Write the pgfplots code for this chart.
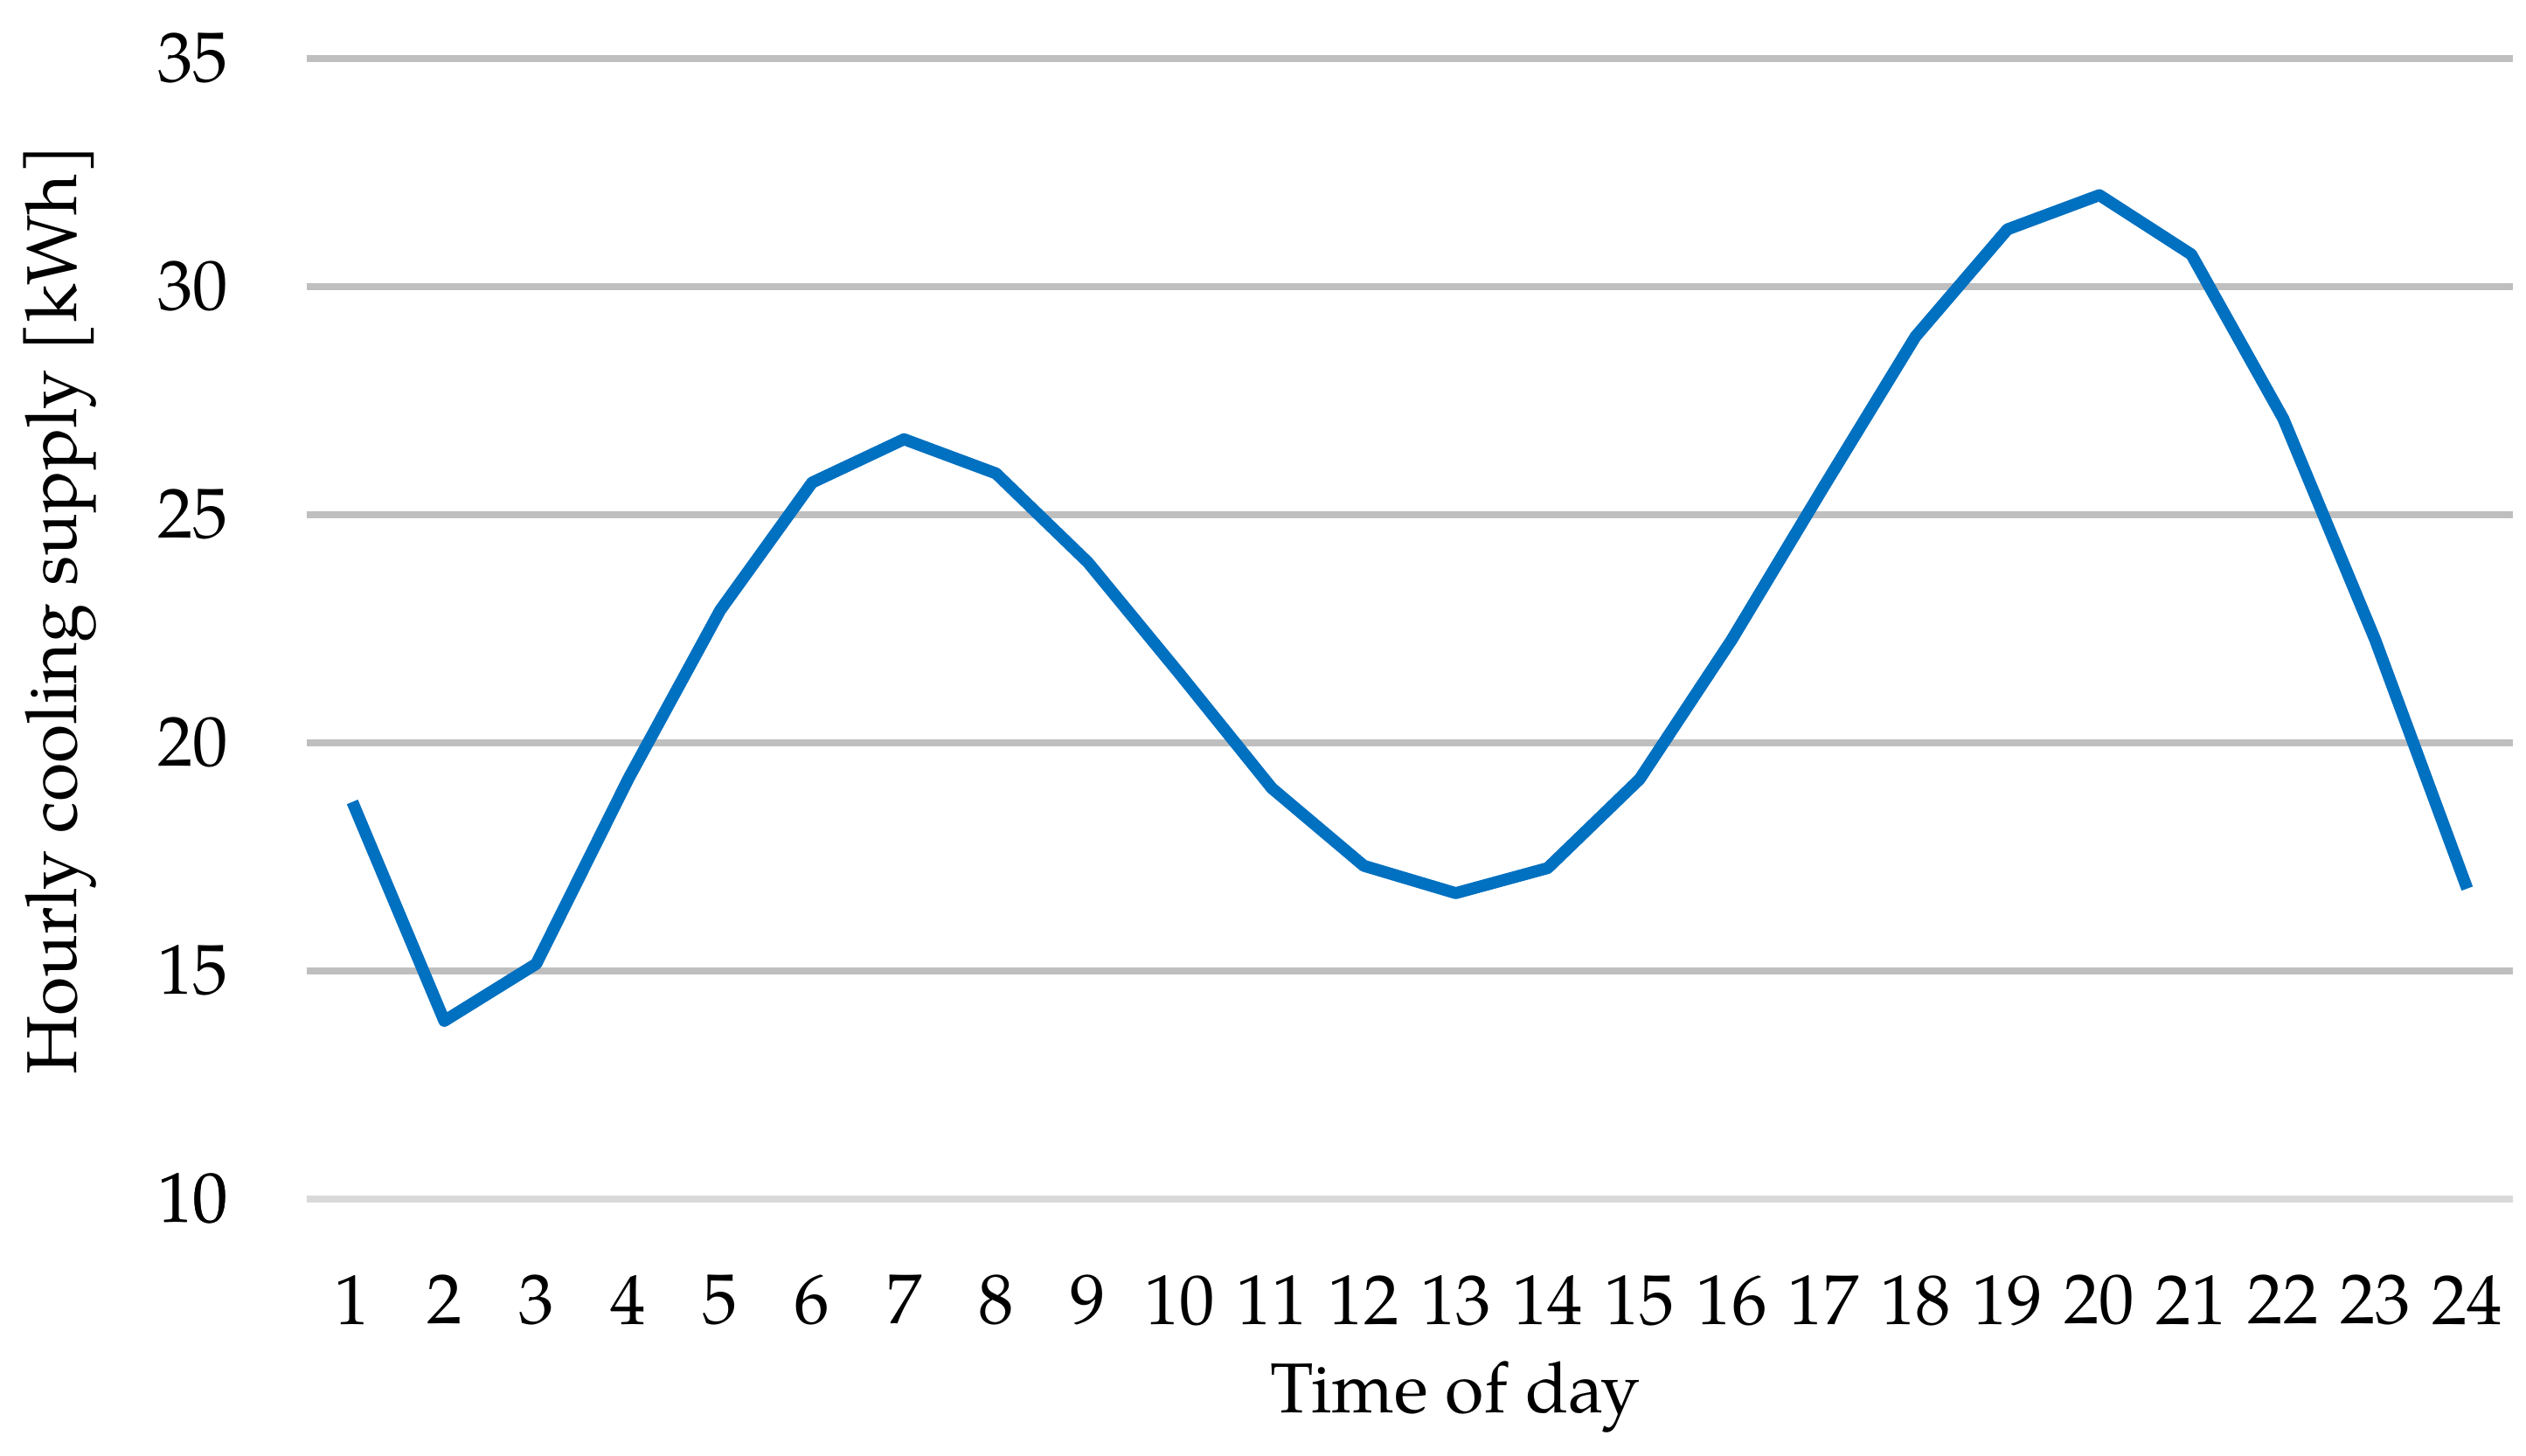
\documentclass[border=0pt]{standalone}
\usepackage{pgfplots}
\pgfplotsset{compat=1.18}
\usepackage{fontspec}
\setmainfont{TeX Gyre Pagella}
\definecolor{lineblue}{RGB}{0,112,192}
\definecolor{gridgray}{RGB}{191,191,191}
\definecolor{basegray}{RGB}{217,217,217}

\begin{document}
\fontsize{12.4}{15}\selectfont
\begin{tikzpicture}
\begin{axis}[
    scale only axis,
    width=13.62cm, height=7.04cm,
    xmin=0.5, xmax=24.5,
    ymin=10, ymax=35,
    xtick={1,...,24},
    ytick={10,15,...,35},
    axis line style={draw=none},
    major tick length=0pt,
    ymajorgrids,
    grid style={gridgray, line width=1.2pt},
    extra y ticks={10},
    extra y tick style={grid style={basegray, line width=1.2pt}},
    /pgf/number format/assume math mode=true,
    ticklabel style={font=\fontsize{12.4}{15}\selectfont},
    yticklabel style={xshift=-0.33cm},
    xticklabel style={yshift=-0.32cm},
    xlabel={Time of day},
    ylabel={Hourly cooling supply [kWh]},
    label style={font=\fontsize{12.4}{15}\selectfont},
    xlabel style={yshift=0.08cm, xshift=0.28cm},
    ylabel style={yshift=0.08cm, xshift=0.12cm},
    clip=false,
]
\addplot[lineblue, line width=2.1pt, line join=round] coordinates {
(1,18.7) (2,13.9) (3,15.15) (4,19.2) (5,22.9) (6,25.7) (7,26.65) (8,25.9)
(9,23.95) (10,21.5) (11,19.0) (12,17.3) (13,16.7) (14,17.25) (15,19.2)
(16,22.25) (17,25.6) (18,28.9) (19,31.25) (20,32.0) (21,30.7) (22,27.1)
(23,22.25) (24,16.8)
};
\end{axis}
\path ([yshift=0.06cm]current axis.outer north);
\end{tikzpicture}
\end{document}
